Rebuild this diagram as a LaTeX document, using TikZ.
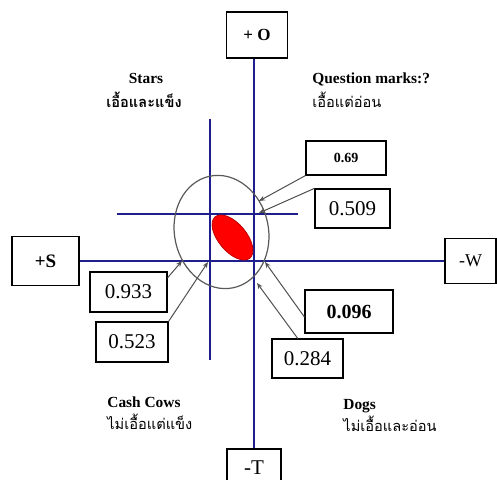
\documentclass[tikz,border=0pt]{standalone}
\usepackage{fontspec}
\setmainfont{Liberation Serif}
\newfontfamily\thaifont[Script=Thai]{Loma}
\usetikzlibrary{arrows.meta}
\definecolor{axisblue}{RGB}{30,30,140}
\definecolor{pointgray}{RGB}{80,80,80}

\begin{document}
\begin{tikzpicture}[x=0.5pt, y=0.5pt,
    axis/.style={axisblue, line width=1pt},
    subaxis/.style={axisblue, line width=0.8pt},
    pole/.style={draw, line width=0.6pt, inner sep=0pt, align=center},
    val/.style={draw, line width=0.6pt, inner sep=0pt,
                font=\fontsize{10.5}{12}\selectfont},
    pointer/.style={-{Stealth[length=3pt,width=2.4pt]}, pointgray, line width=0.5pt},
    quad/.style={font=\fontsize{7.7}{9}\selectfont\bfseries, inner sep=0pt},
    quadth/.style={font=\thaifont\fontsize{7.3}{9}\selectfont, inner sep=0pt}
  ]
  \useasboundingbox (0,0) rectangle (497,480);

  % Poles
  \node[pole, minimum width=30.5pt, minimum height=23pt,
        font=\fontsize{8.5}{10}\selectfont\bfseries] (pO) at (257,445) {+ O};
  \node[pole, minimum width=33.5pt, minimum height=24.5pt,
        font=\fontsize{9.5}{11}\selectfont\bfseries] (pS) at (45.5,219) {+S};
  \node[pole, minimum width=25.5pt, minimum height=22.5pt,
        font=\fontsize{9}{11}\selectfont] (mW) at (470.5,219) {-W};
  \node[pole, minimum width=27pt, minimum height=19pt,
        font=\fontsize{10.5}{12}\selectfont] (mT) at (254,12) {-T};

  % Axes
  \draw[axis] (pO.south -| mT) -- (mT.north);
  \draw[axis] (pS.east) -- (mW.west);
  \draw[subaxis] (210,361) -- (210,120);
  \draw[subaxis] (117,266) -- (298,266);

  % Position
  \draw[gray!70!black, line width=0.6pt, rotate around={12:(221.5,248)}]
    (221.5,248) ellipse [x radius=47, y radius=57];
  \draw[red!75!black, fill=red, line width=0.4pt, rotate around={-50:(232.5,242.5)}]
    (232.5,242.5) ellipse [x radius=27, y radius=14];

  % Quadrants
  \node[quad, anchor=base] (stars) at (146,396) {Stars};
  \node[quadth, anchor=base, font=\thaifont\bfseries\fontsize{7.3}{9}\selectfont] (starsth) at (144,372) {เอื้อและแข็ง};
  \node[quad, anchor=base west] (qm) at (312,396) {Question marks:?};
  \node[quadth, anchor=base west] (qmth) at (312,372) {เอื้อแต่อ่อน};
  \node[quad, anchor=base west] (cows) at (107,72) {Cash Cows};
  \node[quadth, anchor=base west] (cowsth) at (107,50) {ไม่เอื้อแต่แข็ง};
  \node[quad, anchor=base west] (dogs) at (343,70) {Dogs};
  \node[quadth, anchor=base west] (dogsth) at (343,48) {ไม่เอื้อและอ่อน};

  % Values
  \node[val, minimum width=40pt, minimum height=17pt,
        font=\fontsize{7}{8}\selectfont\bfseries] (v069) at (346,322) {0.69};
  \node[val, minimum width=37.5pt, minimum height=19.5pt] (v0509) at (352.5,271.5) {0.509};
  \node[val, minimum width=38.5pt, minimum height=20pt] (v0933) at (128.5,188) {0.933};
  \node[val, minimum width=36pt, minimum height=20pt] (v0523) at (132,138) {0.523};
  \node[val, minimum width=44pt, minimum height=21.5pt,
        font=\fontsize{10}{12}\selectfont\bfseries] (v0096) at (349,168.5) {0.096};
  \node[val, minimum width=35.5pt, minimum height=19.5pt] (v0284) at (307.5,121.5) {0.284};

  % Pointers
  \coordinate (t069) at (259,279);
  \coordinate (t0509) at (259,267);
  \coordinate (t0933) at (182,219);
  \coordinate (t0523) at (208,218);
  \coordinate (t0096) at (265,218);
  \coordinate (t0284) at (257,197);
  \draw[pointer] (v069.south west) -- (t069);
  \draw[pointer] (v0509.north west) -- (t0509);
  \draw[pointer] (v0933.20) -- (t0933);
  \draw[pointer] (v0523.north east) -- (t0523);
  \draw[pointer] (v0096.187) -- (t0096);
  \draw[pointer] (v0284.116) -- (t0284);
\end{tikzpicture}
\end{document}
